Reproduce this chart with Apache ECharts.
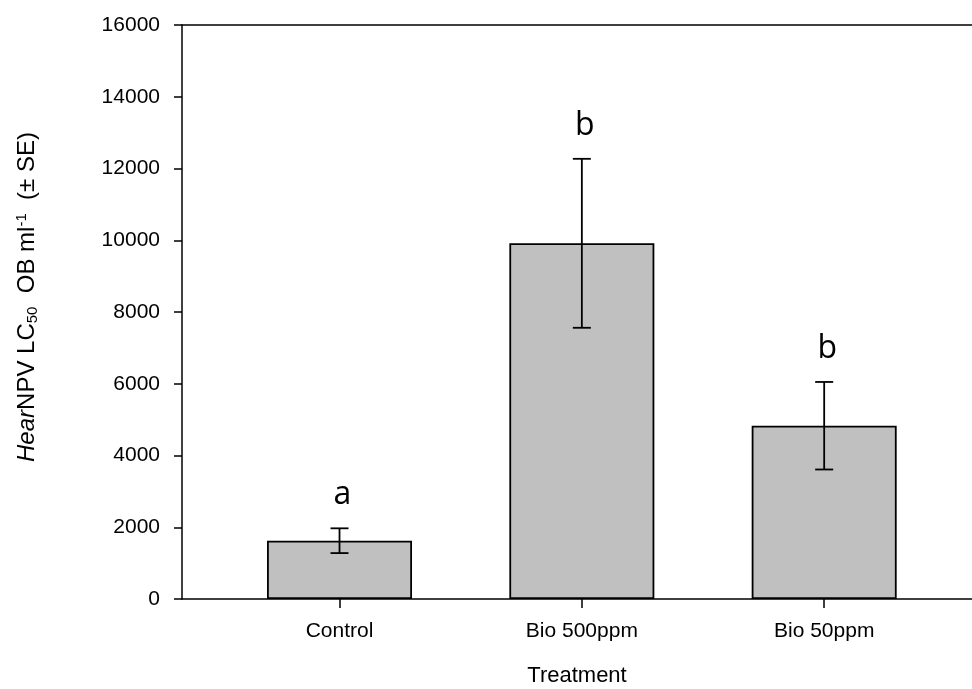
<!DOCTYPE html>
<html>
<head>
<meta charset="utf-8">
<script src="https://cdn.jsdelivr.net/npm/echarts@6/dist/echarts.min.js"></script>
<style>html,body{margin:0;padding:0;background:#fff;}#c{width:972px;height:689px;}</style>
</head>
<body>
<div id="c"></div>
<script>
const categories = ['Control', 'Bio 500ppm', 'Bio 50ppm'];
const positions = [1, 2, 3];
const means = [1625, 9915, 4830];
const se = [345, 2355, 1220];
const letters = ['a', 'b', 'b'];
const yTicks = [0, 2000, 4000, 6000, 8000, 10000, 12000, 14000, 16000];

const chart = echarts.init(document.getElementById('c'));
const FONT = '"Liberation Sans", Arial, sans-serif';

const barData = positions.map((p, i) => [p, means[i]]);
const errData = positions.map((p, i) => [p, means[i], se[i], i]);

chart.setOption({
  animation: false,
  backgroundColor: '#fff',
  grid: { left: 182, right: 0, top: 25, bottom: 90, containLabel: false, outerBoundsMode: 'none' },
  xAxis: [{
    type: 'value', min: 0.35, max: 3.61,
    name: 'Treatment', nameLocation: 'middle', nameGap: 66,
    nameTextStyle: { fontFamily: FONT, fontSize: 22, color: '#000' },
    axisLine: { show: true, onZero: false, lineStyle: { color: '#000', width: 1.5 } },
    axisTick: { show: true, customValues: positions, inside: false, length: 9, lineStyle: { color: '#000', width: 1.5 } },
    axisLabel: {
      show: true, customValues: positions, margin: 22,
      fontFamily: FONT, fontSize: 21, color: '#000',
      formatter: v => { const i = positions.indexOf(Math.round(v)); return i >= 0 ? categories[i] : ''; }
    },
    splitLine: { show: false }
  }, {
    type: 'value', min: 0.35, max: 3.61, position: 'top',
    axisLine: { show: true, onZero: false, lineStyle: { color: '#000', width: 1.5 } },
    axisTick: { show: false }, axisLabel: { show: false }, splitLine: { show: false }
  }],
  yAxis: {
    type: 'value', min: 0, max: 16000, interval: 2000,
    name: '{it|Hear}NPV LC{sub|50}  OB ml{sup|-1}  (± SE)',
    nameLocation: 'middle', nameGap: 142, nameRotate: 90,
    nameTextStyle: {
      fontFamily: FONT, fontSize: 24, color: '#000', padding: [0, 0, 0, 30],
      rich: {
        it: { fontFamily: FONT, fontSize: 24, fontStyle: 'italic', color: '#000' },
        sub: { fontFamily: FONT, fontSize: 15, color: '#000', verticalAlign: 'bottom', padding: [11, 0, 0, 0] },
        sup: { fontFamily: FONT, fontSize: 15, color: '#000', verticalAlign: 'top', padding: [0, 0, 11, 0] }
      }
    },
    axisLine: { show: true, lineStyle: { color: '#000', width: 1.5 } },
    axisTick: { show: true, inside: false, length: 8, lineStyle: { color: '#000', width: 1.5 } },
    axisLabel: { margin: 22, fontFamily: FONT, fontSize: 21, color: '#000', formatter: v => String(v) },
    splitLine: { show: false }
  },
  series: [{
    type: 'bar', xAxisIndex: 0, data: barData, barWidth: 145,
    itemStyle: { color: '#c0c0c0', borderColor: '#000', borderWidth: 1.8 },
    z: 2
  }, {
    type: 'custom', xAxisIndex: 0, data: errData, z: 5,
    renderItem: (params, api) => {
      const x = api.value(0), m = api.value(1), s = api.value(2);
      const idx = api.value(3);
      const top = api.coord([x, m + s]);
      const bot = api.coord([x, m - s]);
      const cap = 9;
      const ls = { stroke: '#000', lineWidth: 1.8 };
      return {
        type: 'group',
        children: [
          { type: 'line', shape: { x1: top[0], y1: top[1], x2: bot[0], y2: bot[1] }, style: ls },
          { type: 'line', shape: { x1: top[0] - cap, y1: top[1], x2: top[0] + cap, y2: top[1] }, style: ls },
          { type: 'line', shape: { x1: bot[0] - cap, y1: bot[1], x2: bot[0] + cap, y2: bot[1] }, style: ls },
          { type: 'text', x: top[0] + 3, y: top[1] - 33,
            style: { text: letters[idx], fill: '#000', fontFamily: '"Open Sans", "Noto Sans", sans-serif', fontSize: 32, align: 'center', verticalAlign: 'middle' } }
        ]
      };
    }
  }]
});
</script>
</body>
</html>
